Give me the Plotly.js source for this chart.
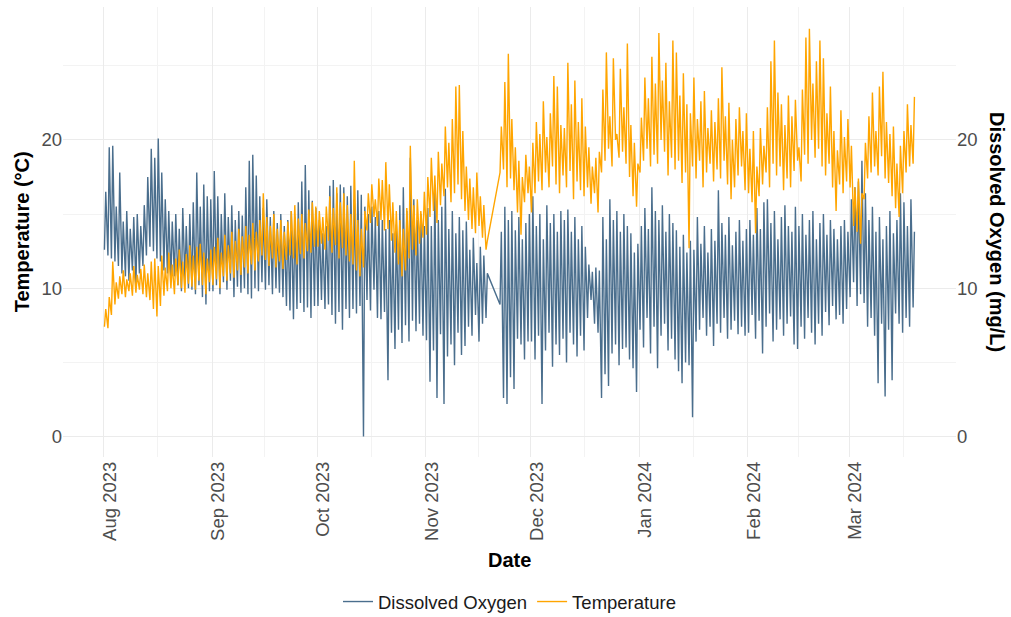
<!DOCTYPE html>
<html>
<head>
<meta charset="utf-8">
<script src="https://cdn.plot.ly/plotly-3.0.1.min.js"></script>
<style>html,body{margin:0;padding:0;background:#fff;}#chart{width:1011px;height:617px;}</style>
</head>
<body>
<div id="chart"></div>
<script>
// Daily series, 2023-08-01 .. 2024-03-19 (null = no logging, Nov 19-21)
const startDate = '2023-08-01';
const monthTicks = ['2023-08-01','2023-09-01','2023-10-01','2023-11-01','2023-12-01','2024-01-01','2024-02-01','2024-03-01'];
const monthLabels = ['Aug 2023','Sep 2023','Oct 2023','Nov 2023','Dec 2023','Jan 2024','Feb 2024','Mar 2024'];
const midMonthTicks = ['2023-08-16 12:00','2023-09-16','2023-10-16 12:00','2023-11-16','2023-12-16 12:00','2024-01-16 12:00','2024-02-15 12:00','2024-03-16 12:00'];

// Dissolved Oxygen (mg/L): daily low (early morning) and daily high (afternoon)
const doMin = [
 12.6,12.2,12.0,11.8,11.5,11.0,10.8,10.5,11.2,10.2,11.0,11.5,12.2,12.8,12.5,12.0,11.8,11.2,11.0,10.5,10.8,10.2,9.8,10.5,10.0,9.9,9.6,10.2,9.4,8.9,9.8,
 9.8,10.2,9.6,10.4,9.9,10.5,9.4,10.1,9.7,10.0,9.6,9.3,10.0,9.8,10.4,9.9,10.2,9.6,10.0,9.7,9.4,8.8,8.5,7.9,8.6,9.0,8.4,8.7,8.0,8.8,
 8.8,9.2,8.6,8.9,8.2,7.6,8.4,7.2,8.6,8.0,8.6,8.3,8.8,0.0,9.2,8.5,9.9,8.0,7.9,8.4,3.8,7.0,5.9,7.2,6.3,7.5,6.4,7.8,7.1,7.6,6.8,
 6.5,3.7,5.8,2.6,6.9,2.2,5.4,6.2,4.8,7.0,5.5,6.1,7.4,6.8,8.2,6.4,7.6,8.0,null,null,null,8.9,2.6,2.2,4.0,3.2,6.6,6.2,5.2,6.4,
 6.4,5.2,6.8,2.2,5.8,7.0,4.7,6.2,5.5,6.6,5.0,7.0,6.2,5.4,6.8,5.8,8.0,9.2,7.6,7.0,2.6,4.2,3.4,5.6,6.2,4.8,5.9,6.0,5.2,4.6,3.0,
 7.2,6.0,8.0,5.6,7.4,4.6,6.8,7.6,5.8,6.6,5.2,4.4,3.6,5.0,4.8,1.3,6.4,7.2,8.0,6.8,7.4,6.1,7.6,7.0,8.0,6.6,7.2,7.8,6.9,7.4,6.8,
 7.0,8.2,6.6,7.8,5.6,7.4,8.3,6.4,7.2,7.9,6.8,7.6,8.1,6.2,5.9,7.4,6.6,8.0,7.0,6.2,7.6,6.8,8.4,7.5,8.8,7.9,8.2,7.6,8.6,
 9.4,10.4,8.8,9.6,9.0,7.4,8.0,6.8,3.6,7.6,2.7,7.2,3.8,8.3,7.6,7.0,8.0,7.4,8.7
];
const doMax = [
 16.5,19.5,19.6,15.5,17.8,14.5,15.2,14.0,14.8,15.0,14.2,15.6,17.5,19.4,18.8,20.1,17.8,16.0,15.2,14.5,15.0,14.0,15.4,14.2,15.0,15.8,17.8,15.5,17.0,16.2,16.0,
 17.9,16.2,15.0,16.4,14.8,15.6,14.6,15.2,14.9,16.8,18.6,19.0,17.6,16.2,15.4,16.0,14.8,15.2,14.4,15.0,14.2,14.6,15.2,14.8,15.8,17.2,18.3,16.6,15.9,15.4,
 14.6,13.7,14.2,16.9,17.3,16.4,17.0,16.8,16.2,16.9,16.0,16.6,16.3,15.5,15.0,15.5,14.8,15.2,14.6,14.0,14.6,13.7,14.3,15.6,16.8,15.2,18.8,16.0,14.6,15.0,14.2,
 15.4,14.2,16.8,14.6,15.5,16.7,14.0,15.2,13.7,14.8,13.9,14.5,12.6,13.4,11.7,12.8,12.2,11.0,null,null,null,13.8,15.5,14.6,15.2,13.9,14.8,13.3,14.4,15.0,
 16.2,14.2,15.0,13.3,15.6,14.4,15.0,13.8,15.2,14.6,15.3,13.8,14.8,13.3,14.2,12.8,11.6,11.1,11.4,11.2,14.8,13.3,16.0,14.6,15.2,13.8,15.0,14.2,13.7,12.4,13.0,
 14.2,15.4,14.0,16.8,15.2,14.6,15.6,13.8,15.0,14.4,13.9,12.8,13.6,12.4,13.2,12.6,14.8,13.0,14.2,12.4,14.0,13.2,16.6,14.4,13.6,14.8,12.9,13.8,14.6,13.2,14.0,
 14.6,13.6,15.4,14.0,15.8,16.0,14.4,15.2,13.3,14.8,15.6,14.2,13.8,15.5,14.2,15.0,13.6,14.6,15.2,13.3,14.4,15.0,13.6,14.6,14.0,13.3,14.2,14.6,13.8,
 16.0,16.8,17.2,18.6,16.4,14.6,15.5,13.8,14.8,13.3,14.2,15.2,13.7,14.6,16.4,15.8,14.2,16.0,13.8
];

// Temperature (°C): daily low and daily high
const tempMin = [
 7.4,7.3,8.2,8.9,9.3,9.6,9.4,9.8,9.5,9.7,9.9,9.6,9.4,9.2,8.6,8.1,8.8,9.5,9.8,10.0,9.6,10.2,10.0,9.7,10.3,10.1,9.9,10.5,10.2,9.6,10.4,
 10.2,10.6,10.0,10.8,10.5,11.0,10.7,11.2,10.9,11.4,11.0,11.6,11.2,11.8,12.2,11.9,11.5,12.0,11.4,11.8,11.3,11.9,12.2,12.0,11.6,12.3,12.0,12.5,12.4,12.8,
 12.8,13.0,12.6,13.2,12.4,12.9,12.0,12.7,12.2,11.8,11.6,11.2,10.8,11.4,13.9,14.4,14.8,14.2,14.6,13.9,14.0,13.2,12.4,11.6,10.8,11.2,12.0,12.6,12.2,13.0,13.4,
 13.6,14.8,15.2,14.4,15.6,16.2,16.8,15.8,16.4,17.0,16.0,15.2,14.6,14.0,13.7,14.2,13.4,12.6,null,null,null,17.8,18.0,16.8,17.4,16.6,15.1,13.6,15.8,16.4,
 15.1,16.4,17.2,16.6,17.8,16.8,18.2,17.0,16.4,17.6,16.8,17.9,16.0,17.2,16.6,16.2,16.8,15.7,16.4,15.1,17.8,18.6,19.4,18.2,20.0,18.8,19.2,18.4,17.5,16.2,15.5,
 17.8,18.6,19.4,18.2,19.0,18.4,20.0,19.2,17.6,18.8,18.0,18.6,17.1,17.8,12.7,18.2,17.4,18.6,16.8,17.8,18.4,17.2,18.0,17.4,18.6,17.0,16.0,16.8,17.6,18.2,16.6,
 16.4,15.8,13.7,16.2,17.0,17.8,16.8,18.4,17.6,18.2,16.6,17.4,16.8,17.9,18.6,17.2,19.0,18.4,20.0,18.8,19.4,18.2,17.6,18.4,16.8,15.2,17.0,16.4,17.2,
 16.8,14.2,13.8,13.0,16.0,17.4,17.8,18.2,17.6,18.9,17.4,17.1,16.2,15.4,14.8,16.4,17.8,18.2,18.4
];
const tempMax = [
 8.6,9.4,11.8,10.4,10.8,11.2,10.6,11.0,11.5,10.9,11.3,11.6,11.0,11.8,12.0,11.5,12.2,11.4,12.4,11.6,12.0,12.6,11.8,12.3,12.9,12.2,12.8,13.0,12.4,12.0,12.6,
 12.8,13.4,12.4,13.6,12.9,13.8,13.2,14.0,13.5,14.2,13.6,14.4,13.8,14.6,16.4,14.8,14.2,15.0,14.0,14.6,13.8,14.5,15.2,15.6,14.7,15.0,14.4,15.3,15.8,15.5,
 15.2,14.8,15.5,16.2,15.4,16.8,15.8,16.4,15.6,15.0,18.6,14.6,14.0,15.2,16.4,17.0,16.0,17.4,17.3,18.5,17.0,15.8,15.2,14.6,14.0,15.4,19.6,15.6,16.0,15.2,16.5,
 17.5,18.8,17.6,19.2,18.4,20.9,19.8,21.4,23.6,23.7,20.6,18.2,17.4,16.8,17.8,16.2,15.6,13.2,null,null,null,20.9,23.9,25.8,21.4,19.5,18.6,17.5,19.0,18.2,
 19.8,21.2,20.4,22.6,20.2,21.8,24.3,23.6,21.0,20.8,25.2,22.4,24.0,21.2,22.8,20.9,19.5,18.2,18.8,19.2,23.4,25.9,21.6,25.5,20.4,24.8,22.2,26.5,21.0,19.8,18.4,
 21.5,24.2,22.8,25.6,23.8,27.2,24.0,25.2,22.6,26.7,25.9,23.0,24.5,22.4,21.8,24.2,21.4,22.6,23.3,20.8,22.0,21.2,22.8,24.9,21.6,22.5,20.0,21.4,22.2,20.6,21.8,
 19.4,20.6,18.2,20.8,19.6,22.2,25.3,26.7,23.2,22.4,21.0,23.0,21.6,22.7,19.5,23.4,26.9,27.5,23.8,25.3,26.7,25.5,21.8,23.6,20.6,19.3,22.0,20.2,21.4,
 19.6,16.8,17.4,16.4,19.8,21.6,23.2,20.6,23.6,24.6,21.2,20.4,20.9,18.4,19.6,20.6,22.4,21.0,22.9
];

// Build the time series: low at 06:00, high at 15:00 each day
function pad(n){return (n<10?'0':'')+n;}
function dayString(i){
  const d = new Date(startDate + 'T00:00:00Z');
  d.setUTCDate(d.getUTCDate() + i);
  return d.getUTCFullYear()+'-'+pad(d.getUTCMonth()+1)+'-'+pad(d.getUTCDate());
}
function buildSeries(lo, hi){
  const x = [], y = [];
  for (let i = 0; i < lo.length; i++){
    if (lo[i] === null || hi[i] === null) continue;
    const ds = dayString(i);
    x.push(ds + ' 06:00'); y.push(lo[i]);
    x.push(ds + ' 15:00'); y.push(hi[i]);
  }
  return {x, y};
}
const doS = buildSeries(doMin, doMax);
const tS = buildSeries(tempMin, tempMax);

const traces = [
  {type:'scatter', mode:'lines', name:'Dissolved Oxygen', x:doS.x, y:doS.y, yaxis:'y',
   line:{color:'#4a6e8d', width:1.4}, hoverinfo:'skip'},
  {type:'scatter', mode:'lines', name:'Temperature', x:tS.x, y:tS.y, yaxis:'y2',
   line:{color:'#ffa500', width:1.4}, hoverinfo:'skip'}
];

const yRange = [-1.38, 28.96];
const tickFont = {family:'Liberation Sans, Arial, sans-serif', size:18.5, color:'#4d4d4d'};
const titleFont = {family:'Liberation Sans, Arial, sans-serif', size:20, color:'#000000'};

const layout = {
  width:1011, height:617,
  margin:{l:63, r:55, t:7, b:160, pad:0, autoexpand:false},
  paper_bgcolor:'#ffffff', plot_bgcolor:'#ffffff',
  font:{family:'Liberation Sans, Arial, sans-serif', size:18.5, color:'#4d4d4d'},
  xaxis:{
    type:'date', range:['2023-07-20 10:00','2024-03-31 12:00'], automargin:false,
    tickmode:'array', tickvals:monthTicks, ticktext:monthLabels, tickangle:-90, ticklabelshift:6,
    tickfont:tickFont, ticks:'', showline:false, zeroline:false,
    showgrid:true, gridcolor:'#ebebeb', gridwidth:1,
    minor:{tickmode:'array', tickvals:midMonthTicks, showgrid:true, gridcolor:'#f3f3f3', gridwidth:1, ticks:''},
    fixedrange:true
  },
  yaxis:{
    side:'right', range:yRange, tickmode:'array', tickvals:[0,10,20], automargin:false,
    tickfont:tickFont, ticks:'', showline:false, zeroline:false,
    showgrid:true, gridcolor:'#ebebeb', gridwidth:1,
    minor:{tickmode:'array', tickvals:[5,15,25], showgrid:true, gridcolor:'#f3f3f3', gridwidth:1, ticks:''}
  },
  yaxis2:{
    overlaying:'y', side:'left', range:yRange, tickmode:'array', tickvals:[0,10,20], automargin:false,
    tickfont:tickFont, ticks:'', showline:false, zeroline:false, showgrid:false
  },
  showlegend:true,
  legend:{orientation:'h', x:0.5, xanchor:'center', yref:'container', y:0.0243, yanchor:'middle',
          font:{family:'Liberation Sans, Arial, sans-serif', size:18.5, color:'#1a1a1a'},
          itemwidth:30, bgcolor:'rgba(0,0,0,0)'},
  annotations:[
    {text:'<b>Temperature (°C)</b>', xref:'paper', yref:'paper', x:-0.0456, y:0.5,
     xanchor:'center', yanchor:'middle', textangle:-90, showarrow:false, font:titleFont},
    {text:'<b>Dissolved Oxygen (mg/L)</b>', xref:'paper', yref:'paper', x:1.0459, y:0.5,
     xanchor:'center', yanchor:'middle', textangle:90, showarrow:false, font:titleFont},
    {text:'<b>Date</b>', xref:'paper', yref:'paper', x:0.5, y:-0.229,
     xanchor:'center', yanchor:'middle', showarrow:false, font:titleFont}
  ]
};

Plotly.newPlot('chart', traces, layout, {displayModeBar:false, staticPlot:true});
</script>
</body>
</html>
